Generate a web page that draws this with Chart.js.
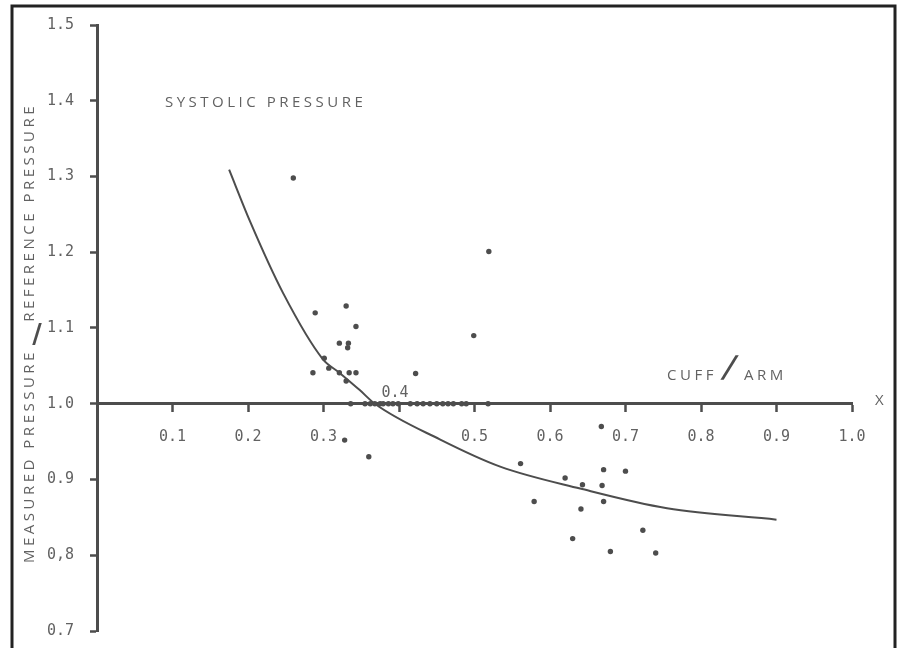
<!DOCTYPE html>
<html>
<head>
<meta charset="utf-8">
<title>Systolic pressure - cuff / arm</title>
<script src="https://cdn.jsdelivr.net/npm/chart.js@4.4.1/dist/chart.umd.min.js"></script>
<style>
  body { margin: 0; background: #fff; }
  canvas { display: block; }
</style>
</head>
<body>
<canvas id="chart" width="897" height="648"></canvas>
<script>
// values (x = cuff/arm, y = measured/reference)
const pointX = [
  0.260, 0.519, 0.289, 0.330, 0.343, 0.499, 0.321, 0.333, 0.332, 0.301,
  0.307, 0.286, 0.321, 0.334, 0.343, 0.330, 0.422,
  0.336, 0.355, 0.362, 0.368, 0.375, 0.379, 0.386, 0.392, 0.399, 0.415,
  0.424, 0.432, 0.441, 0.450, 0.458, 0.465, 0.472, 0.483, 0.489, 0.518,
  0.328, 0.360, 0.561, 0.579, 0.620, 0.643, 0.641, 0.630, 0.671, 0.700,
  0.669, 0.671, 0.680, 0.723, 0.740, 0.668
];
const pointY = [
  1.298, 1.201, 1.120, 1.129, 1.102, 1.090, 1.080, 1.080, 1.074, 1.060,
  1.047, 1.041, 1.041, 1.041, 1.041, 1.030, 1.040,
  1.0, 1.0, 1.0, 1.0, 1.0, 1.0, 1.0, 1.0, 1.0, 1.0,
  1.0, 1.0, 1.0, 1.0, 1.0, 1.0, 1.0, 1.0, 1.0, 1.0,
  0.952, 0.930, 0.921, 0.871, 0.902, 0.893, 0.861, 0.822, 0.913, 0.911,
  0.892, 0.871, 0.805, 0.833, 0.803, 0.970
];
const curveX = [0.175, 0.203, 0.246, 0.299, 0.321, 0.348, 0.368, 0.454, 0.534, 0.640, 0.755, 0.900];
const curveY = [1.309, 1.240, 1.147, 1.059, 1.041, 1.018, 1.000, 0.953, 0.917, 0.888, 0.862, 0.847];

const xTickLabels = ["", "0.1", "0.2", "0.3", "", "0.5", "0.6", "0.7", "0.8", "0.9", "1.0"];
const yTickLabels = ["0.7", "0,8", "0.9", "1.0", "1.1", "1.2", "1.3", "1.4", "1.5"];

const inkColor = "#4d4d4d";
const textColor = "#626262";

const points = pointX.map((x, i) => ({ x: x, y: pointY[i] }));
const curve = curveX.map((x, i) => ({ x: x, y: curveY[i] }));

// scan frame, hand lettering and the 0.4 label that sits above the axis
const annotations = {
  id: "annotations",
  beforeDraw(chart) {
    const ctx = chart.ctx;
    ctx.save();
    ctx.fillStyle = "#fff";
    ctx.fillRect(0, 0, chart.width, chart.height);
    ctx.strokeStyle = "#222";
    ctx.lineWidth = 3;
    ctx.beginPath();
    ctx.moveTo(12, chart.height + 2);
    ctx.lineTo(12, 6);
    ctx.lineTo(895, 6);
    ctx.lineTo(895, chart.height + 2);
    ctx.stroke();
    ctx.restore();
  },
  afterDraw(chart) {
    const ctx = chart.ctx;
    const xs = chart.scales.x;
    const ys = chart.scales.y;
    ctx.save();
    ctx.fillStyle = textColor;
    ctx.textBaseline = "middle";

    ctx.font = "15px 'DejaVu Sans Mono'";
    ctx.textAlign = "center";
    ctx.fillText("0.4", xs.getPixelForValue(0.4) - 4, ys.getPixelForValue(1.0) - 11);

    ctx.letterSpacing = "3.5px";
    ctx.font = "15px 'Open Sans'";
    ctx.textAlign = "left";
    ctx.fillText("SYSTOLIC PRESSURE", 165, 103);
    ctx.fillText("CUFF", 667, 376);
    ctx.fillText("ARM", 744, 376);
    ctx.fillText("X", 875, 401);

    // y axis title, reading upwards
    ctx.save();
    ctx.translate(30, 563);
    ctx.rotate(-Math.PI / 2);
    ctx.textAlign = "left";
    ctx.fillText("MEASURED PRESSURE", 0, 0);
    ctx.restore();
    ctx.save();
    ctx.translate(30, 103);
    ctx.rotate(-Math.PI / 2);
    ctx.textAlign = "right";
    ctx.fillText("REFERENCE PRESSURE", 0, 0);
    ctx.restore();

    // the two heavy slashes
    ctx.letterSpacing = "0px";
    ctx.fillStyle = inkColor;
    ctx.textAlign = "center";
    ctx.font = "bold 30px 'DejaVu Sans'";
    ctx.save();
    ctx.translate(729, 369);
    ctx.transform(1, 0, -0.3, 1, 0, 0);
    ctx.fillText("/", 0, 0);
    ctx.restore();
    ctx.font = "bold 26px 'DejaVu Sans'";
    ctx.save();
    ctx.translate(37, 336);
    ctx.fillText("/", 0, 0);
    ctx.restore();
    ctx.restore();
  }
};

const ctx = document.getElementById("chart").getContext("2d");
const chart = new Chart(ctx, {
  type: "scatter",
  data: {
    datasets: [
      {
        label: "measurements",
        data: points,
        pointRadius: 2.7,
        pointBorderWidth: 0,
        pointBackgroundColor: inkColor,
        showLine: false
      },
      {
        label: "fit",
        data: curve,
        showLine: true,
        pointRadius: 0,
        borderColor: inkColor,
        borderWidth: 2,
        cubicInterpolationMode: "monotone"
      }
    ]
  },
  options: {
    responsive: false,
    animation: false,
    events: [],
    layout: { padding: { left: 0, right: 45, top: 25, bottom: 17 } },
    plugins: {
      legend: { display: false },
      tooltip: { enabled: false }
    },
    scales: {
      x: {
        type: "linear",
        min: 0,
        max: 1.0,
        position: { y: 1.0 },
        grid: { drawOnChartArea: false, tickLength: 7, tickWidth: 2.5, tickColor: inkColor },
        border: { display: true, color: inkColor, width: 3 },
        ticks: {
          stepSize: 0.1,
          padding: 17,
          color: textColor,
          font: { family: "'DejaVu Sans Mono'", size: 15 },
          maxRotation: 0,
          autoSkip: false,
          callback: value => xTickLabels[Math.round(value * 10)]
        }
      },
      y: {
        type: "linear",
        min: 0.7,
        max: 1.5,
        position: "left",
        // fixed axis width; drop the label padding so the layout padding rules
        afterFit: scale => {
          scale.width = 97;
          scale.paddingTop = 0;
          scale.paddingBottom = 0;
        },
        grid: { drawOnChartArea: false, tickLength: 7, tickWidth: 2.5, tickColor: inkColor },
        border: { display: true, color: inkColor, width: 3 },
        ticks: {
          stepSize: 0.1,
          padding: 16,
          color: textColor,
          font: { family: "'DejaVu Sans Mono'", size: 15 },
          autoSkip: false,
          callback: value => yTickLabels[Math.round((value - 0.7) * 10)]
        }
      }
    }
  },
  plugins: [annotations]
});
</script>
</body>
</html>
